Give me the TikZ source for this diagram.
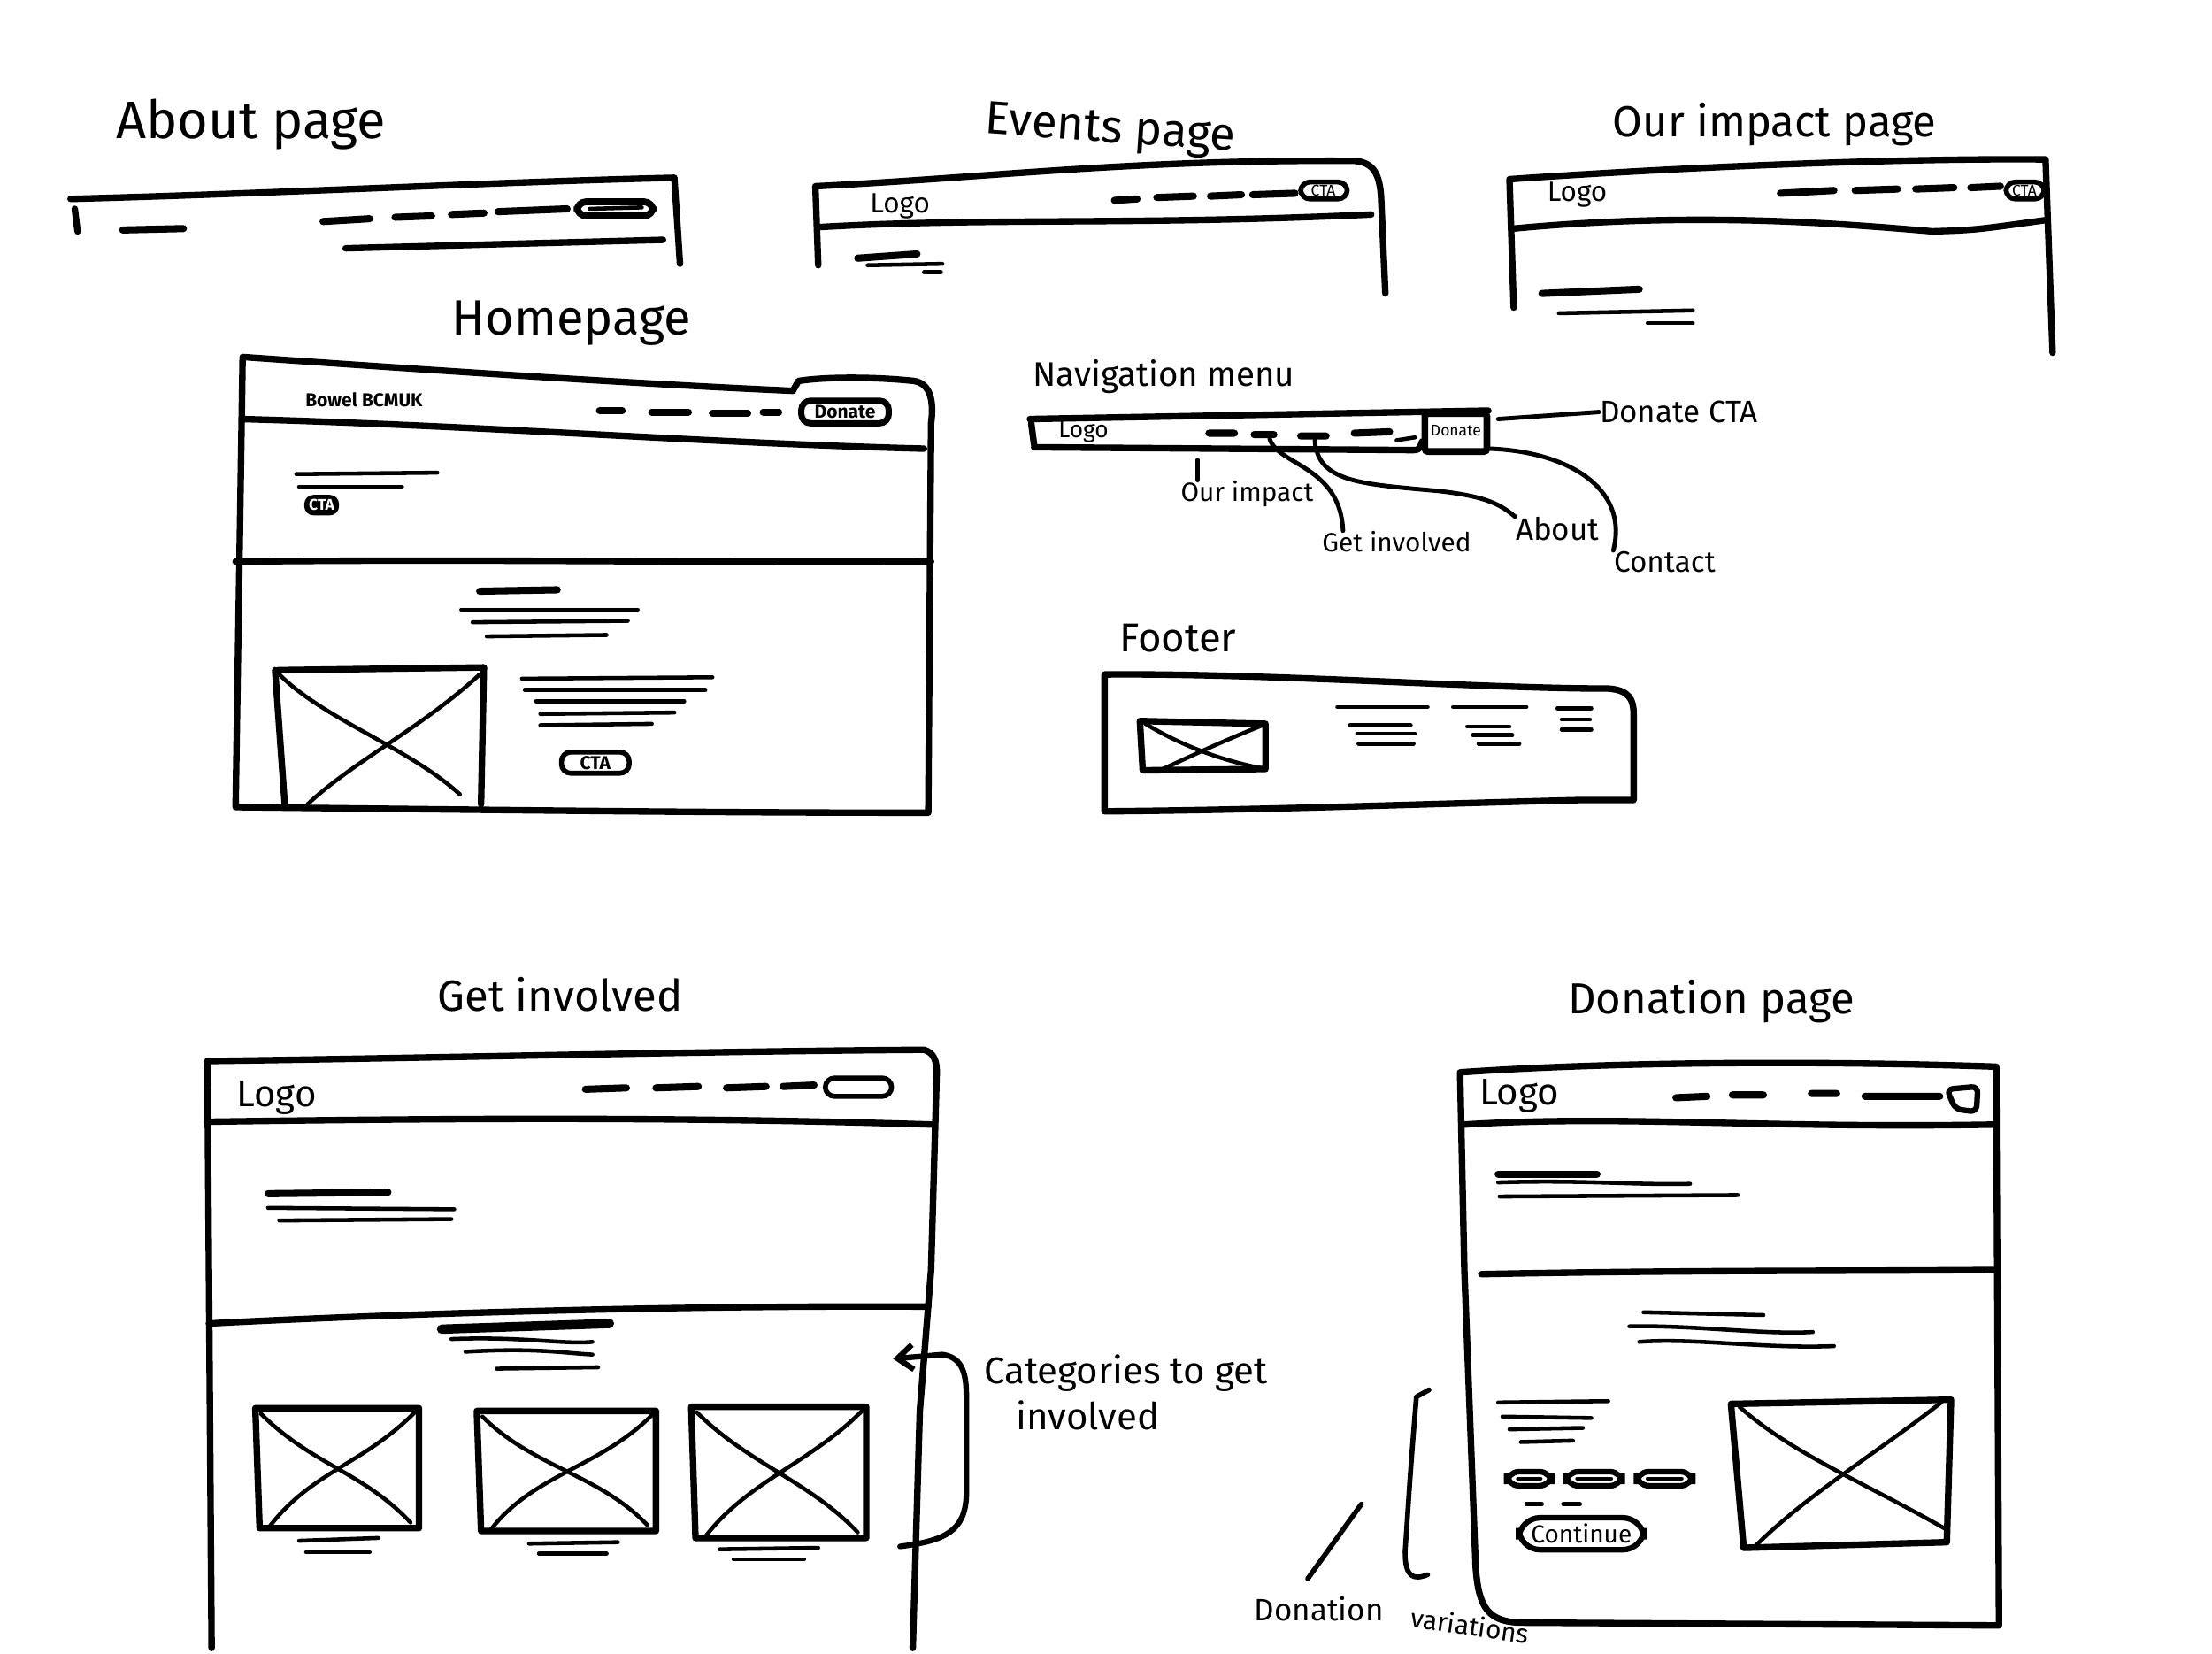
\documentclass[tikz,border=0pt]{standalone}
\usepackage{fontspec}
\setmainfont{Fira Sans}
\usetikzlibrary{arrows.meta}
\newcommand{\fsz}[1]{\fontsize{#1}{#1}\selectfont}
\begin{document}
\begin{tikzpicture}[x=0.016cm,y=-0.016cm,
  fr/.style={line width=2.1pt,line cap=round,line join=round},
  tl/.style={line width=1.3pt,line cap=round},
  tk/.style={line width=2.3pt,line cap=round},
  cl/.style={line width=1.4pt,line cap=round},
  ttl/.style={inner sep=0pt,font=\fsz{15}},
  lbl/.style={inner sep=0pt,font=\fsz{10}},
  smalltxt/.style={inner sep=0pt,font=\fsz{9}},
  tinytxt/.style={inner sep=0pt,font=\fsz{5}},
  btn/.style={line width=1.6pt,rounded corners=3pt}]
\path[use as bounding box,fill=white] (0,0) rectangle (1568,1172);

% ---------------- About page ----------------
\node[ttl,font=\fsz{17}] (tAbout) at (178,88) {About page};
\draw[fr] (50,141) .. controls (200,137) and (350,129) .. (478,126) -- (482,187);
\draw[fr] (53,148) -- (55,164);
\draw[tk] (87,163) -- (130,162);
\draw[tk] (229,157) -- (262,155) (280,154) -- (306,153) (320,152) -- (343,151) (353,150) -- (402,148);
\draw[btn,line width=2.2pt] (409,143) rectangle (463,153);
\draw[tl] (418,148) -- (455,147);
\draw[fr] (245,176) -- (470,170);

% ---------------- Events page ----------------
\node[ttl,rotate=-4] (tEvents) at (787,93) {Events page};
\draw[fr] (580,188) -- (578,132) .. controls (700,126) and (800,113) .. (960,114)
      .. controls (974,115) and (978,124) .. (979,140) -- (982,208);
\draw[fr] (580,161) .. controls (700,154) and (800,160) .. (972,152);
\node[smalltxt] (eLogo) at (638,146) {Logo};
\draw[tk] (790,142) -- (806,141) (820,140) -- (846,139) (858,139) -- (880,138) (888,138) -- (918,137);
\draw[btn] (922,129) rectangle (955,141);
\node[tinytxt] (eCta) at (938,135) {CTA};
\draw[tk] (608,183) -- (650,180);
\draw[tl] (615,188) -- (668,187);
\draw[tl] (655,193) -- (667,193);

% ---------------- Our impact page ----------------
\node[ttl,font=\fsz{14}] (tImpact) at (1258,88) {Our impact page};
\draw[fr] (1073,218) -- (1070,127) .. controls (1200,118) and (1350,112) .. (1450,113) -- (1455,250);
\draw[fr] (1073,162) .. controls (1200,150) and (1300,158) .. (1370,164) .. controls (1400,163) .. (1450,156);
\node[smalltxt] (iLogo) at (1118,138) {Logo};
\draw[tk] (1262,137) -- (1300,135) (1315,135) -- (1345,134) (1358,134) -- (1385,133) (1397,133) -- (1418,132);
\draw[btn] (1422,129) rectangle (1449,141);
\node[tinytxt] (iCta) at (1435,135) {CTA};
\draw[tk] (1093,208) -- (1162,205);
\draw[tl] (1105,222) -- (1200,220);
\draw[tl] (1168,229) -- (1200,229);

% ---------------- Homepage ----------------
\node[ttl,font=\fsz{16}] (tHome) at (405,229) {Homepage};
\draw[fr] (660,300) .. controls (662,285) and (660,272) .. (648,270)
      .. controls (620,267) and (585,267) .. (566,270) -- (562,277)
      .. controls (450,272) and (300,262) .. (172,253) -- (167,572)
      .. controls (350,574) and (500,576) .. (658,576) -- (660,300);
\draw[fr] (172,297) .. controls (350,302) and (500,314) .. (655,318);
\node[tinytxt,font=\bfseries\fsz{6}] (hLogo) at (258,283) {Bowel BCMUK};
\draw[tk] (425,291) -- (441,291) (462,292) -- (488,292) (505,293) -- (530,293) (541,292) -- (552,292);
\draw[btn,line width=2pt] (568,284) rectangle (630,300);
\node[tinytxt,font=\bfseries\fsz{6}] (hDonate) at (599,292) {Donate};
\draw[tl] (210,336) -- (310,335);
\draw[tl] (212,345) -- (285,345);
\node[fill=black,text=white,rounded corners=3pt,inner sep=1.5pt,font=\bfseries\fsz{5}] (hCta) at (228,358) {CTA};
\draw[fr] (167,398) .. controls (350,396) and (500,399) .. (660,398);
\draw[tk] (340,419) -- (395,418);
\draw[tl] (327,432) -- (452,432);
\draw[tl] (335,441) -- (445,440);
\draw[tl] (345,451) -- (430,450);
\draw[fr] (197,475) -- (343,473) -- (341,570);
\draw[fr] (195,475) -- (202,572);
\draw[tl] (198,478) .. controls (230,510) and (290,530) .. (326,563);
\draw[tl] (340,478) .. controls (300,515) and (250,540) .. (218,570);
\draw[tl] (370,481) -- (505,480);
\draw[tl] (372,489) -- (500,489);
\draw[tl] (380,497) -- (485,497);
\draw[tl] (383,506) -- (478,505);
\draw[tl] (383,514) -- (462,513);
\draw[btn] (398,533) rectangle (446,548);
\node[tinytxt,font=\bfseries\fsz{6}] (hCta2) at (422,541) {CTA};

% ---------------- Navigation menu ----------------
\node[lbl,font=\fsz{11}] (tNav) at (825,267) {Navigation menu};
\draw[fr] (730,297) -- (1055,291);
\draw[fr] (731,300) -- (733,315);
\draw[fr] (733,317) -- (1000,319) .. controls (1006,319) .. (1008,313);
\draw[btn,line width=2.2pt,rounded corners=1pt] (1010,293) rectangle (1054,320);
\node[tinytxt,font=\fsz{5}] (nDonate) at (1032,305) {Donate};
\node[smalltxt,font=\fsz{7.5}] (nLogo) at (768,306) {Logo};
\draw[tk] (857,307) -- (875,307) (889,308) -- (903,308) (922,309) -- (940,309) (960,307) -- (985,306);
\draw[tl] (990,312) -- (1003,310);
\node[lbl] (lDonateCTA) at (1190,292) {Donate CTA};
\node[lbl,font=\fsz{8.5}] (lImpact) at (884,350) {Our impact};
\node[lbl,font=\fsz{8.5}] (lGetInv) at (990,384) {Get involved};
\node[lbl] (lAbout) at (1104,375) {About};
\node[lbl,font=\fsz{9.5}] (lContact) at (1180,398) {Contact};
\coordinate (cDon) at (1062,297);
\coordinate (cImp) at (849,326);
\coordinate (cGet) at (900,311);
\coordinate (cAb) at (932,312);
\coordinate (cCon) at (1056,318);
\draw[cl] (cDon) -- (lDonateCTA.west);
\draw[cl] (cImp) -- (lImpact.north -| cImp);
\draw[cl] (cGet) .. controls (906,330) and (950,330) .. (lGetInv.north -| 952,0);
\draw[cl] (cAb) .. controls (934,342) and (965,343) .. (1020,348) .. controls (1055,352) and (1064,358) .. (lAbout.north west);
\draw[cl] (cCon) .. controls (1110,320) and (1155,345) .. (lContact.north west);

% ---------------- Footer ----------------
\node[ttl,font=\fsz{13}] (tFooter) at (835,452) {Footer};
\draw[fr] (783,478) .. controls (900,477) and (1050,488) .. (1140,488)
      .. controls (1155,489) and (1158,496) .. (1158,506) -- (1158,567) -- (1120,567)
      .. controls (1000,570) and (900,574) .. (783,575) -- cycle;
\draw[fr] (808,511) -- (897,513) -- (897,545) -- (810,546) -- cycle;
\draw[tl] (812,513) .. controls (840,530) and (870,540) .. (897,545);
\draw[tl] (895,514) .. controls (860,528) and (840,538) .. (822,546);
\draw[tl] (948,501) -- (1012,501);
\draw[tl] (957,514) -- (1000,514);
\draw[tl] (962,520) -- (1003,520);
\draw[tl] (963,527) -- (1002,527);
\draw[tl] (1030,501) -- (1082,501);
\draw[tl] (1040,515) -- (1070,515);
\draw[tl] (1044,521) -- (1072,521);
\draw[tl] (1048,527) -- (1077,527);
\draw[tl] (1104,502) -- (1128,502);
\draw[tl] (1107,510) -- (1127,510);
\draw[tl] (1107,517) -- (1128,517);

% ---------------- Get involved ----------------
\node[ttl,font=\fsz{14}] (tGet) at (397,705) {Get involved};
\draw[fr] (150,1168) -- (147,752) .. controls (300,750) and (500,745) .. (655,744)
      .. controls (662,746) and (664,752) .. (664,760) -- (660,900) -- (652,1000) -- (647,1168);
\draw[fr] (147,795) .. controls (350,792) and (500,792) .. (660,797);
\node[lbl,font=\fsz{12}] (gLogo) at (196,778) {Logo};
\draw[tk] (415,772) -- (444,771) (465,771) -- (495,770) (515,771) -- (543,770) (555,770) -- (577,769);
\draw[btn] (585,764) rectangle (632,777);
\draw[tk] (190,846) -- (275,845);
\draw[tl] (190,856) -- (322,857);
\draw[tl] (198,865) -- (320,864);
\draw[fr] (148,938) .. controls (300,930) and (500,925) .. (658,926);
\draw[tk,line width=3pt] (313,942) -- (432,938);
\draw[tl] (320,949) .. controls (370,947) and (400,953) .. (420,951);
\draw[tl] (330,958) .. controls (380,955) and (400,959) .. (420,960);
\draw[tl] (352,970) -- (424,969);
\foreach \a/\b/\c/\d [count=\i] in {181/998/297/1083, 338/1000/465/1085, 490/997/614/1090}{
  \draw[fr] (\a,\b) -- (\c,\b) -- (\c,\d) -- (\a+3,\d) -- cycle;
  \draw[tl] (\a+4,\b+4) .. controls (\a+40,\b+40) and (\c-40,\d-40) .. (\c-6,\d-4);
  \draw[tl] (\c-3,\b+3) .. controls (\c-40,\b+40) and (\a+40,\d-40) .. (\a+10,\d-1);
}
\draw[tl] (212,1092) -- (268,1090);
\draw[tl] (217,1100) -- (262,1100);
\draw[tl] (375,1094) -- (438,1093);
\draw[tl] (382,1101) -- (430,1101);
\draw[tl] (510,1098) -- (580,1097);
\draw[tl] (520,1105) -- (570,1105);
\node[lbl,font=\fsz{12},anchor=west] (lCat) at (697,973) {Categories to get};
\node[lbl,font=\fsz{12},anchor=west] (lCat2) at (720,1003) {involved};
\coordinate (aTip) at (633,963);
\coordinate (aEnd) at (638,1096);
\draw[cl,line width=1.8pt,{Straight Barb[length=5pt,width=8pt]}-] (aTip) -- (668,960)
      .. controls (683,962) and (685,975) .. (685,990) -- (685,1060)
      .. controls (684,1085) and (670,1092) .. (aEnd);

% ---------------- Donation page ----------------
\node[ttl,font=\fsz{14}] (tDon) at (1213,710) {Donation page};
\draw[fr] (1035,760) -- (1038,900) -- (1046,1110) .. controls (1048,1140) and (1055,1150) .. (1080,1150)
      -- (1417,1152) -- (1415,756) .. controls (1300,752) and (1150,752) .. (1035,760);
\draw[fr] (1038,797) .. controls (1150,790) and (1250,800) .. (1415,797);
\node[lbl,font=\fsz{12}] (dLogo) at (1077,777) {Logo};
\draw[tk] (1188,778) -- (1210,777) (1228,776) -- (1250,776) (1284,775) -- (1302,775) (1322,777) -- (1375,777);
\draw[btn,line width=1.8pt,rounded corners=2pt] (1380,772) -- (1402,770) -- (1401,788) -- (1386,786) -- cycle;
\draw[tk] (1062,832) -- (1132,832);
\draw[tl] (1062,838) .. controls (1120,836) and (1160,840) .. (1198,839);
\draw[fr] (1050,903) .. controls (1200,900) and (1300,901) .. (1415,900);
\draw[tl] (1165,930) -- (1250,932);
\draw[tl] (1155,940) .. controls (1200,939) and (1250,946) .. (1285,944);
\draw[tl] (1162,951) .. controls (1200,948) and (1250,956) .. (1300,954);
\draw[tl] (1063,848) -- (1232,847);
\draw[tl] (1062,994) -- (1140,993);
\draw[tl] (1065,1004) -- (1128,1005);
\draw[tl] (1070,1013) -- (1122,1012);
\draw[tl] (1078,1022) -- (1115,1021);
\foreach \a/\b in {1068/1100, 1110/1150, 1160/1200}{
  \draw[line width=1.8pt,rounded corners=4pt] (\a,1043) rectangle (\b,1053);
  \draw[tl] (\a+8,1048) -- (\b-8,1048);
}
\draw[tl] (1082,1066) -- (1093,1066);
\draw[tl] (1108,1066) -- (1120,1066);
\node[draw,line width=1.8pt,rounded corners=7pt,inner xsep=4pt,inner ysep=2pt,font=\fsz{8}] (dCont) at (1121,1087) {Continue};
\draw[fr] (1227,995) -- (1383,992) -- (1380,1093) -- (1236,1097) -- cycle;
\draw[tl] (1233,997) .. controls (1270,1030) and (1320,1050) .. (1378,1083);
\draw[tl] (1376,994) .. controls (1330,1030) and (1280,1060) .. (1244,1096);
\coordinate (bTop) at (1013,985);
\coordinate (bBot) at (1012,1116);
\draw[fr,line width=1.6pt] (bTop) -- (1004,990) .. controls (1000,1040) .. (996,1100)
      .. controls (996,1118) and (1002,1120) .. (bBot);
\node[lbl,font=\fsz{10}] (lDonVar) at (935,1140) {Donation};
\node[lbl,font=\fsz{8.5},rotate=-8] (lDonVar2) at (1042,1152) {variations};
\draw[cl,line width=1.6pt] (lDonVar.north) ++(-8,-12) -- (965,1066);
\end{tikzpicture}
\end{document}
